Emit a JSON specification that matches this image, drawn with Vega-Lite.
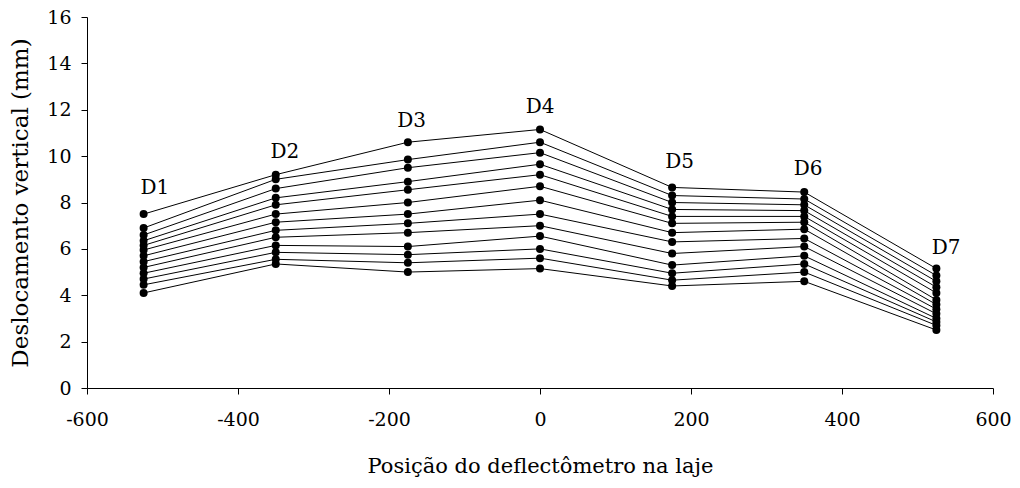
{
  "$schema": "https://vega.github.io/schema/vega-lite/v6.json",
  "width": 906,
  "height": 371,
  "autosize": {"type": "none"},
  "padding": {"left": 87, "top": 17, "right": 27, "bottom": 100},
  "background": "white",
  "config": {
    "view": {"stroke": null},
    "font": "DejaVu Serif",
    "axis": {
      "grid": false,
      "domainColor": "black",
      "tickColor": "black",
      "labelColor": "black",
      "titleColor": "black",
      "labelFont": "DejaVu Serif",
      "titleFont": "DejaVu Serif",
      "labelFontSize": 19,
      "titleFontSize": 20,
      "titleFontWeight": "normal",
      "labelFlush": false,
      "tickSize": 6
    }
  },
  "datasets": {
    "pts": [
      {"s": 1, "x": -525, "y": 7.5}, {"s": 1, "x": -350, "y": 9.2}, {"s": 1, "x": -175, "y": 10.6}, {"s": 1, "x": 0, "y": 11.15}, {"s": 1, "x": 175, "y": 8.65}, {"s": 1, "x": 350, "y": 8.45}, {"s": 1, "x": 525, "y": 5.15},
      {"s": 2, "x": -525, "y": 6.9}, {"s": 2, "x": -350, "y": 9.0}, {"s": 2, "x": -175, "y": 9.85}, {"s": 2, "x": 0, "y": 10.6}, {"s": 2, "x": 175, "y": 8.3}, {"s": 2, "x": 350, "y": 8.15}, {"s": 2, "x": 525, "y": 4.85},
      {"s": 3, "x": -525, "y": 6.6}, {"s": 3, "x": -350, "y": 8.6}, {"s": 3, "x": -175, "y": 9.5}, {"s": 3, "x": 0, "y": 10.15}, {"s": 3, "x": 175, "y": 8.0}, {"s": 3, "x": 350, "y": 7.9}, {"s": 3, "x": 525, "y": 4.6},
      {"s": 4, "x": -525, "y": 6.35}, {"s": 4, "x": -350, "y": 8.2}, {"s": 4, "x": -175, "y": 8.9}, {"s": 4, "x": 0, "y": 9.65}, {"s": 4, "x": 175, "y": 7.7}, {"s": 4, "x": 350, "y": 7.65}, {"s": 4, "x": 525, "y": 4.35},
      {"s": 5, "x": -525, "y": 6.15}, {"s": 5, "x": -350, "y": 7.9}, {"s": 5, "x": -175, "y": 8.55}, {"s": 5, "x": 0, "y": 9.2}, {"s": 5, "x": 175, "y": 7.4}, {"s": 5, "x": 350, "y": 7.4}, {"s": 5, "x": 525, "y": 4.1},
      {"s": 6, "x": -525, "y": 5.95}, {"s": 6, "x": -350, "y": 7.5}, {"s": 6, "x": -175, "y": 8.0}, {"s": 6, "x": 0, "y": 8.7}, {"s": 6, "x": 175, "y": 7.1}, {"s": 6, "x": 350, "y": 7.15}, {"s": 6, "x": 525, "y": 3.8},
      {"s": 7, "x": -525, "y": 5.7}, {"s": 7, "x": -350, "y": 7.15}, {"s": 7, "x": -175, "y": 7.5}, {"s": 7, "x": 0, "y": 8.1}, {"s": 7, "x": 175, "y": 6.7}, {"s": 7, "x": 350, "y": 6.85}, {"s": 7, "x": 525, "y": 3.6},
      {"s": 8, "x": -525, "y": 5.45}, {"s": 8, "x": -350, "y": 6.8}, {"s": 8, "x": -175, "y": 7.1}, {"s": 8, "x": 0, "y": 7.5}, {"s": 8, "x": 175, "y": 6.3}, {"s": 8, "x": 350, "y": 6.45}, {"s": 8, "x": 525, "y": 3.4},
      {"s": 9, "x": -525, "y": 5.2}, {"s": 9, "x": -350, "y": 6.5}, {"s": 9, "x": -175, "y": 6.7}, {"s": 9, "x": 0, "y": 7.0}, {"s": 9, "x": 175, "y": 5.8}, {"s": 9, "x": 350, "y": 6.1}, {"s": 9, "x": 525, "y": 3.2},
      {"s": 10, "x": -525, "y": 4.95}, {"s": 10, "x": -350, "y": 6.15}, {"s": 10, "x": -175, "y": 6.1}, {"s": 10, "x": 0, "y": 6.55}, {"s": 10, "x": 175, "y": 5.3}, {"s": 10, "x": 350, "y": 5.7}, {"s": 10, "x": 525, "y": 3.0},
      {"s": 11, "x": -525, "y": 4.7}, {"s": 11, "x": -350, "y": 5.85}, {"s": 11, "x": -175, "y": 5.75}, {"s": 11, "x": 0, "y": 6.0}, {"s": 11, "x": 175, "y": 4.95}, {"s": 11, "x": 350, "y": 5.35}, {"s": 11, "x": 525, "y": 2.85},
      {"s": 12, "x": -525, "y": 4.45}, {"s": 12, "x": -350, "y": 5.55}, {"s": 12, "x": -175, "y": 5.4}, {"s": 12, "x": 0, "y": 5.6}, {"s": 12, "x": 175, "y": 4.65}, {"s": 12, "x": 350, "y": 5.0}, {"s": 12, "x": 525, "y": 2.7},
      {"s": 13, "x": -525, "y": 4.1}, {"s": 13, "x": -350, "y": 5.35}, {"s": 13, "x": -175, "y": 5.0}, {"s": 13, "x": 0, "y": 5.15}, {"s": 13, "x": 175, "y": 4.4}, {"s": 13, "x": 350, "y": 4.6}, {"s": 13, "x": 525, "y": 2.5}
    ],
    "labels": [
      {"name": "D1", "x": -510, "y": 8.2},
      {"name": "D2", "x": -338, "y": 9.75},
      {"name": "D3", "x": -170, "y": 11.1},
      {"name": "D4", "x": 0, "y": 11.7},
      {"name": "D5", "x": 185, "y": 9.3},
      {"name": "D6", "x": 355, "y": 9.0},
      {"name": "D7", "x": 538, "y": 5.6}
    ]
  },
  "layer": [
    {
      "data": {"name": "pts"},
      "mark": {"type": "line", "color": "black", "strokeWidth": 1},
      "encoding": {
        "x": {"field": "x", "type": "quantitative", "scale": {"domain": [-600, 600], "nice": false},
              "axis": {"values": [-600, -400, -200, 0, 200, 400, 600], "labelExpr": "replace(datum.label, '−', '-')", "title": "Posição do deflectômetro na laje", "labelPadding": 16, "titlePadding": 26, "titleFontSize": 21}},
        "y": {"field": "y", "type": "quantitative", "scale": {"domain": [0, 16], "nice": false},
              "axis": {"values": [0, 2, 4, 6, 8, 10, 12, 14, 16], "title": "Deslocamento vertical (mm)", "labelPadding": 10, "titlePadding": 14, "titleFontSize": 23}},
        "detail": {"field": "s", "type": "nominal"},
        "order": {"field": "x", "type": "quantitative"}
      }
    },
    {
      "data": {"name": "pts"},
      "mark": {"type": "point", "filled": true, "color": "black", "opacity": 1, "size": 64},
      "encoding": {
        "x": {"field": "x", "type": "quantitative"},
        "y": {"field": "y", "type": "quantitative"}
      }
    },
    {
      "data": {"name": "labels"},
      "mark": {"type": "text", "color": "black", "fontSize": 20, "font": "DejaVu Serif", "baseline": "bottom"},
      "encoding": {
        "x": {"field": "x", "type": "quantitative"},
        "y": {"field": "y", "type": "quantitative"},
        "text": {"field": "name"}
      }
    }
  ]
}
